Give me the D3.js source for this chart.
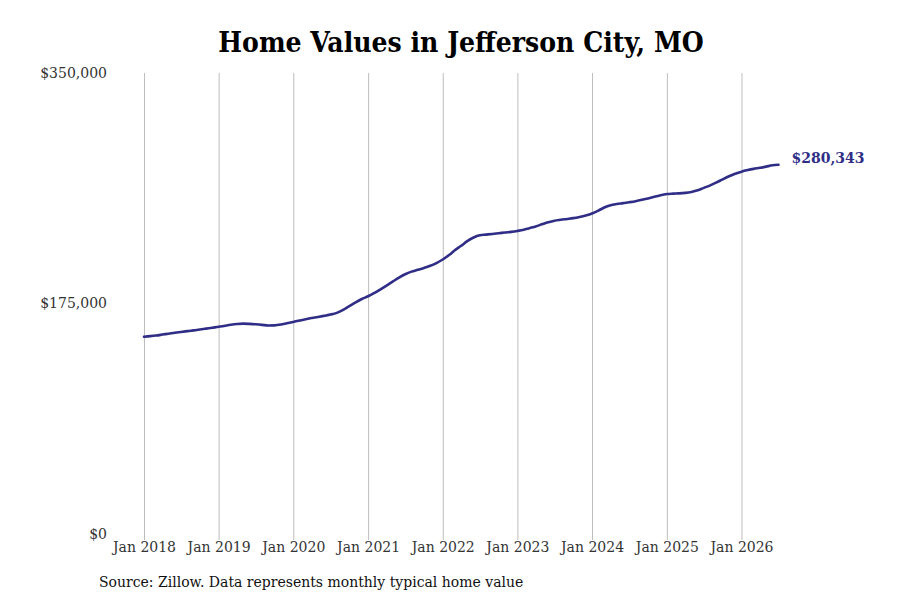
<!DOCTYPE html>
<html>
<head>
<meta charset="utf-8">
<script src="https://cdn.jsdelivr.net/npm/d3@7"></script>
<style>
  body { margin: 0; background: #fff; }
  text { font-family: "DejaVu Serif", serif; }
</style>
</head>
<body>
<div id="chart"></div>
<script>
const w = 900;
const h = 600;

const lineColor = '#2f2d86';

// typical home value, one array per year, Jan..Dec
const years = [2018, 2019, 2020, 2021, 2022, 2023, 2024, 2025, 2026];
const values2018 = [149800, 150200, 150700, 151400, 152100, 152800, 153400, 154000, 154600, 155200, 155900, 156600];
const values2019 = [157300, 158100, 158800, 159400, 159700, 159500, 159200, 158800, 158300, 158400, 159000, 160000];
const values2020 = [161000, 162100, 163100, 164000, 164800, 165700, 166600, 167900, 170200, 173000, 175900, 178400];
const values2021 = [180500, 183000, 185600, 188600, 191600, 194700, 197200, 199200, 200600, 202000, 203600, 205700];
const values2022 = [208400, 211800, 215400, 218800, 222300, 225100, 226800, 227300, 227800, 228300, 228900, 229400];
const values2023 = [230100, 231000, 232200, 233500, 235100, 236700, 237900, 238600, 239200, 239800, 240700, 241800];
const values2024 = [243300, 245500, 247900, 249600, 250500, 251200, 251900, 252700, 253700, 254800, 256000, 257200];
const values2025 = [258100, 258400, 258600, 259000, 259700, 260900, 262800, 264700, 266900, 269300, 271600, 273500];
const values2026 = [275100, 276300, 277200, 278000, 278900, 279900, 280343];
const valuesByYear = [values2018, values2019, values2020, values2021, values2022, values2023, values2024, values2025, values2026];

const yTicks = [0, 175000, 350000];
const xTickYears = [2018, 2019, 2020, 2021, 2022, 2023, 2024, 2025, 2026];

const title = 'Home Values in Jefferson City, MO';
const source = 'Source: Zillow. Data represents monthly typical home value';

const data = [];
years.forEach((yr, i) => {
    valuesByYear[i].forEach((v, m) => data.push({ date: new Date(yr, m, 1), value: v }));
});

const xScale = d3.scaleTime()
    .domain([new Date(2018, 0, 1), new Date(2026, 0, 1)])
    .range([144, 741.5]);

const yScale = d3.scaleLinear()
    .domain([0, 350000])
    .range([534, 73]);

const svg = d3.select('#chart')
    .append('svg')
    .attr('width', w)
    .attr('height', h);

svg.append('text')
    .text(title)
    .attr('x', 461)
    .attr('y', 52)
    .attr('text-anchor', 'middle')
    .style('font-weight', 'bold')
    .style('font-stretch', 'condensed')
    .style('font-size', '28px')
    .attr('fill', '#000');

// vertical grid + ticks
const xAxis = d3.axisBottom(xScale)
    .tickValues(xTickYears.map(y => new Date(y, 0, 1)))
    .tickFormat(d3.timeFormat('Jan %Y'))
    .tickSize(534 - 73 + 6)
    .tickPadding(2);

const gx = svg.append('g')
    .attr('transform', 'translate(0, 73)')
    .call(xAxis);
gx.select('.domain').remove();
gx.selectAll('line').attr('stroke', '#bdbdbd');
gx.selectAll('text')
    .attr('fill', '#333')
    .style('font-size', '14px')
    .style('font-family', '"DejaVu Serif", serif');

const yAxis = d3.axisLeft(yScale)
    .tickValues(yTicks)
    .tickFormat(d => '$' + d3.format(',')(d))
    .tickSize(0)
    .tickPadding(37);

const gy = svg.append('g')
    .attr('transform', 'translate(144, 0)')
    .call(yAxis);
gy.select('.domain').remove();
gy.selectAll('text')
    .attr('fill', '#333')
    .style('font-size', '14px')
    .style('font-family', '"DejaVu Serif", serif');

const line = d3.line()
    .x(d => xScale(d.date))
    .y(d => yScale(d.value))
    .curve(d3.curveMonotoneX);

svg.append('path')
    .datum(data)
    .attr('d', line)
    .attr('fill', 'none')
    .attr('stroke', lineColor)
    .attr('stroke-width', 2.6)
    .attr('stroke-linejoin', 'round')
    .attr('stroke-linecap', 'round');

const last = data[data.length - 1];
svg.append('text')
    .text('$' + d3.format(',')(last.value))
    .attr('x', xScale(last.date) + 13)
    .attr('y', yScale(last.value) - 6)
    .attr('dominant-baseline', 'middle')
    .attr('fill', lineColor)
    .style('font-weight', 'bold')
    .style('font-size', '14px');

svg.append('text')
    .text(source)
    .attr('x', 99)
    .attr('y', 587)
    .attr('fill', '#111')
    .style('font-size', '14px');
</script>
</body>
</html>
